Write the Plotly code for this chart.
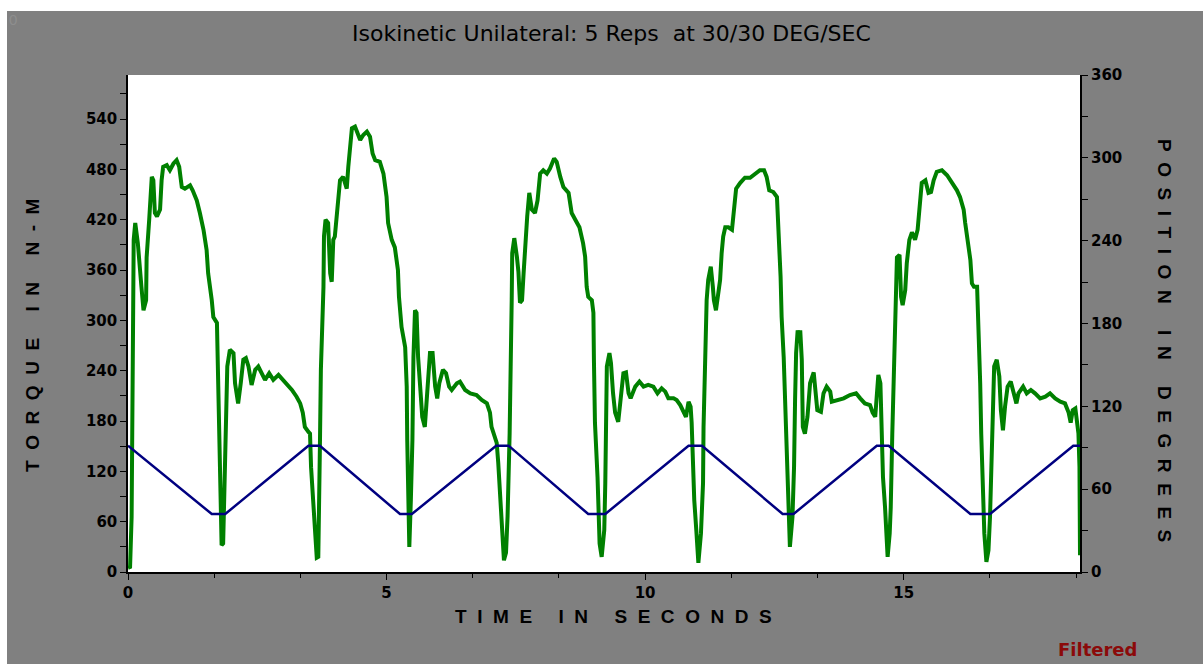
import plotly.graph_objects as go

# ---- data ----
torque_time = [
    0.00, 0.04, 0.07, 0.10, 0.11, 0.14, 0.19, 0.26, 0.30, 0.35, 0.36, 0.41, 0.46, 0.49, 0.52, 0.56,
    0.62, 0.65, 0.68, 0.75, 0.81, 0.88, 0.94, 0.99, 1.04, 1.10, 1.20, 1.25, 1.33, 1.39, 1.46, 1.52,
    1.55, 1.62, 1.65, 1.72, 1.73, 1.75, 1.78, 1.81, 1.84, 1.88, 1.91, 1.92, 1.97, 2.04, 2.07, 2.13,
    2.18, 2.23, 2.28, 2.33, 2.39, 2.46, 2.52, 2.59, 2.65, 2.73, 2.81, 2.91, 3.00, 3.07, 3.17, 3.26,
    3.33, 3.38, 3.42, 3.49, 3.52, 3.54, 3.57, 3.62, 3.65, 3.68, 3.70, 3.71, 3.73, 3.78, 3.79, 3.82,
    3.87, 3.91, 3.94, 3.97, 4.00, 4.04, 4.10, 4.16, 4.23, 4.26, 4.29, 4.33, 4.39, 4.49, 4.55, 4.62,
    4.68, 4.73, 4.78, 4.87, 4.94, 5.00, 5.03, 5.10, 5.16, 5.22, 5.24, 5.29, 5.36, 5.39, 5.40, 5.42,
    5.44, 5.47, 5.50, 5.52, 5.55, 5.58, 5.61, 5.65, 5.69, 5.74, 5.78, 5.84, 5.89, 5.94, 5.98, 6.02,
    6.09, 6.15, 6.21, 6.26, 6.36, 6.42, 6.52, 6.62, 6.74, 6.84, 6.94, 7.00, 7.03, 7.08, 7.13, 7.16,
    7.20, 7.23, 7.27, 7.31, 7.34, 7.38, 7.40, 7.42, 7.43, 7.47, 7.52, 7.55, 7.58, 7.62, 7.65, 7.68,
    7.72, 7.76, 7.81, 7.87, 7.92, 7.97, 8.03, 8.10, 8.16, 8.24, 8.29, 8.36, 8.42, 8.52, 8.58, 8.65,
    8.73, 8.80, 8.84, 8.87, 8.90, 8.97, 9.00, 9.01, 9.03, 9.08, 9.12, 9.16, 9.21, 9.23, 9.25, 9.26,
    9.31, 9.34, 9.38, 9.42, 9.48, 9.54, 9.58, 9.63, 9.68, 9.72, 9.81, 9.89, 9.97, 10.06, 10.16, 10.24,
    10.32, 10.39, 10.45, 10.55, 10.61, 10.68, 10.74, 10.79, 10.84, 10.88, 10.90, 10.92, 10.95, 10.99, 11.03, 11.08,
    11.12, 11.13, 11.16, 11.19, 11.22, 11.27, 11.31, 11.33, 11.37, 11.41, 11.45, 11.48, 11.51, 11.55, 11.61, 11.68,
    11.71, 11.76, 11.84, 11.93, 12.03, 12.13, 12.22, 12.30, 12.35, 12.40, 12.48, 12.55, 12.56, 12.59, 12.62, 12.64,
    12.68, 12.71, 12.74, 12.77, 12.80, 12.85, 12.88, 12.90, 12.92, 12.95, 12.98, 13.00, 13.03, 13.05, 13.09, 13.14,
    13.19, 13.26, 13.29, 13.33, 13.40, 13.45, 13.51, 13.58, 13.61, 13.71, 13.84, 13.96, 14.08, 14.16, 14.25, 14.35,
    14.40, 14.45, 14.48, 14.51, 14.55, 14.57, 14.60, 14.64, 14.69, 14.73, 14.75, 14.78, 14.82, 14.84, 14.87, 14.92,
    14.95, 14.98, 15.03, 15.06, 15.11, 15.16, 15.22, 15.27, 15.31, 15.35, 15.42, 15.48, 15.53, 15.58, 15.64, 15.74,
    15.84, 15.93, 16.03, 16.09, 16.16, 16.19, 16.24, 16.29, 16.32, 16.36, 16.42, 16.45, 16.48, 16.50, 16.53, 16.56,
    16.60, 16.64, 16.67, 16.69, 16.72, 16.75, 16.80, 16.85, 16.88, 16.92, 16.96, 17.01, 17.07, 17.12, 17.18, 17.22,
    17.31, 17.38, 17.46, 17.54, 17.64, 17.74, 17.83, 17.93, 18.03, 18.12, 18.19, 18.23, 18.27, 18.32, 18.35, 18.38,
    18.40, 18.41,
]
torque_nm = [
    5, 6, 66, 288, 396, 416, 392, 340, 312, 324, 375, 420, 471, 467, 428, 424,
    432, 467, 483, 485, 479, 487, 491, 483, 459, 457, 461, 455, 443, 428, 408, 384,
    356, 324, 304, 297, 265, 178, 74, 32, 34, 125, 193, 245, 265, 261, 225, 201,
    225, 253, 255, 245, 223, 241, 245, 237, 229, 237, 229, 235, 229, 223, 217, 209,
    201, 190, 173, 167, 165, 125, 90, 46, 17, 18, 77, 145, 241, 340, 400, 420,
    416, 356, 346, 396, 400, 432, 467, 471, 457, 483, 507, 529, 531, 515, 521, 525,
    519, 499, 491, 489, 475, 447, 416, 396, 387, 360, 328, 292, 268, 221, 157, 86,
    30, 86, 157, 256, 312, 309, 256, 221, 185, 173, 213, 261, 261, 221, 207, 225,
    241, 237, 221, 217, 225, 227, 217, 213, 211, 205, 201, 190, 173, 165, 154, 130,
    82, 46, 14, 23, 66, 165, 225, 324, 380, 398, 376, 358, 321, 324, 356, 392,
    424, 452, 432, 428, 443, 475, 479, 475, 481, 493, 489, 471, 459, 452, 428, 420,
    411, 392, 376, 340, 328, 324, 309, 253, 178, 113, 34, 18, 50, 106, 185, 245,
    261, 249, 213, 190, 179, 213, 237, 238, 213, 207, 221, 227, 221, 223, 221, 213,
    219, 215, 207, 207, 205, 199, 191, 185, 203, 197, 178, 125, 86, 50, 11, 46,
    106, 173, 256, 324, 348, 364, 340, 324, 312, 328, 348, 380, 400, 411, 411, 408,
    432, 457, 464, 470, 470, 475, 479, 479, 471, 455, 453, 447, 428, 392, 352, 304,
    256, 205, 149, 74, 30, 66, 125, 205, 261, 288, 277, 288, 253, 173, 165, 185,
    225, 238, 221, 193, 191, 213, 221, 215, 203, 205, 207, 211, 213, 207, 201, 199,
    190, 185, 213, 235, 225, 169, 113, 77, 18, 46, 77, 165, 249, 324, 375, 378,
    328, 318, 336, 368, 396, 405, 396, 408, 443, 464, 467, 452, 453, 467, 477, 479,
    473, 465, 455, 447, 432, 416, 392, 372, 344, 340, 340, 292, 225, 165, 86, 46,
    12, 26, 66, 125, 185, 245, 253, 233, 193, 169, 197, 221, 227, 213, 201, 213,
    221, 213, 217, 213, 207, 209, 213, 207, 203, 201, 190, 178, 193, 195, 178, 165,
    125, 20,
]

position_time = [0.00, 1.62, 1.88, 3.49, 3.71, 5.26, 5.49, 7.12, 7.36, 8.90, 9.23,
                 10.84, 11.10, 12.66, 12.87, 14.48, 14.71, 16.29, 16.67, 18.28, 18.41]
position_deg = [91.5, 42, 42, 91.5, 91.5, 42, 42, 91.5, 91.5, 42, 42,
                91.5, 91.5, 42, 42, 91.5, 91.5, 42, 42, 91.5, 91.5]

torque_ticks = [0, 60, 120, 180, 240, 300, 360, 420, 480, 540]
position_ticks = [0, 60, 120, 180, 240, 300, 360]
time_ticks = [0, 5, 10, 15]

title_text = "Isokinetic Unilateral: 5 Reps\u00a0\u00a0at 30/30 DEG/SEC"

# ---- figure ----
GRAY = "#808080"
FONT = "Liberation Sans, Arial, sans-serif"
WIDE = "DejaVu Sans, Verdana, sans-serif"

fig = go.Figure()
fig.add_trace(go.Scatter(x=torque_time, y=torque_nm, mode="lines",
                         line=dict(color="#008000", width=4), yaxis="y",
                         showlegend=False, hoverinfo="skip"))
fig.add_trace(go.Scatter(x=position_time, y=position_deg, mode="lines",
                         line=dict(color="#000080", width=2.5), yaxis="y2",
                         showlegend=False, hoverinfo="skip"))

tickfont = dict(family=WIDE, size=15, color="black", weight="bold")

fig.update_layout(
    width=1203, height=664,
    margin=dict(l=128, r=123, t=75, b=92),
    paper_bgcolor=GRAY, plot_bgcolor="white",
    showlegend=False,
    xaxis=dict(range=[0, 18.41], tickvals=time_ticks, ticktext=[str(v) for v in time_ticks],
               ticks="outside", ticklen=6, tickwidth=1, tickcolor="black",
               minor=dict(dtick=5 / 3, tick0=0, ticks="outside", ticklen=4, tickcolor="black"),
               showline=True, linecolor="black", linewidth=1.5,
               showgrid=False, zeroline=False, tickfont=tickfont, fixedrange=True),
    yaxis=dict(range=[0, 592.5], tickvals=torque_ticks, ticktext=[str(v) for v in torque_ticks],
               ticks="outside", ticklen=6, tickwidth=1, tickcolor="black",
               minor=dict(dtick=30, tick0=0, ticks="outside", ticklen=6, tickcolor="black"),
               showline=True, linecolor="black", linewidth=1.5,
               showgrid=False, zeroline=False, tickfont=tickfont),
    yaxis2=dict(range=[0, 360], tickvals=position_ticks, ticktext=[str(v) for v in position_ticks],
                overlaying="y", side="right",
                ticks="outside", ticklen=6, tickwidth=1, tickcolor="black",
                minor=dict(dtick=30, tick0=0, ticks="outside", ticklen=6, tickcolor="black"),
                showline=True, linecolor="black", linewidth=2,
                showgrid=False, zeroline=False, tickfont=tickfont),
)

ann = [
    dict(text=title_text, x=0.5084, y=1.0845, font=dict(family=WIDE, size=22, color="#000000")),
    dict(text="T\u00a0\u00a0I\u00a0\u00a0M\u00a0\u00a0E\u00a0\u00a0\u00a0\u00a0\u00a0I\u00a0\u00a0N\u00a0\u00a0\u00a0\u00a0\u00a0S\u00a0\u00a0E\u00a0\u00a0C\u00a0\u00a0O\u00a0\u00a0N\u00a0\u00a0D\u00a0\u00a0S",
         x=0.5095, y=-0.0905, font=dict(family=FONT, size=19, color="#000000", weight=600)),
    dict(text="T\u00a0\u00a0O\u00a0\u00a0R\u00a0\u00a0Q\u00a0\u00a0U\u00a0\u00a0E\u00a0\u00a0\u00a0\u00a0\u00a0I\u00a0\u00a0N\u00a0\u00a0\u00a0\u00a0\u00a0N\u00a0\u00a0-\u00a0\u00a0M",
         x=-0.0998, y=0.4769, textangle=-90, font=dict(family=FONT, size=19, color="#000000", weight=600)),
    dict(text="P\u00a0\u00a0O\u00a0\u00a0S\u00a0\u00a0I\u00a0\u00a0T\u00a0\u00a0I\u00a0\u00a0O\u00a0\u00a0N\u00a0\u00a0\u00a0\u00a0\u00a0I\u00a0\u00a0N\u00a0\u00a0\u00a0\u00a0\u00a0D\u00a0\u00a0E\u00a0\u00a0G\u00a0\u00a0R\u00a0\u00a0E\u00a0\u00a0E\u00a0\u00a0S",
         x=1.0893, y=0.4668, textangle=90, font=dict(family=FONT, size=19, color="#000000", weight=600)),
    dict(text="Filtered", x=1.0179, y=-0.1569,
         font=dict(family=WIDE, size=18, color="#8b0a0a", weight="bold")),
    dict(text="0", x=-0.1208, y=1.1107, font=dict(family=FONT, size=15, color="#8e8e8e")),
]
for a in ann:
    a.update(xref="paper", yref="paper", showarrow=False, xanchor="center", yanchor="middle")
fig.update_layout(annotations=ann)

# thin white page margins at the left and top edges
fig.add_shape(type="rect", xref="paper", yref="paper", x0=-0.1345, x1=-0.1271, y0=-0.2, y1=1.2,
              fillcolor="white", line=dict(width=0), layer="above")
fig.add_shape(type="rect", xref="paper", yref="paper", x0=-0.14, x1=1.14, y0=1.1288, y1=1.2,
              fillcolor="white", line=dict(width=0), layer="above")

fig.write_html("out.html", config={"displayModeBar": False},
               post_script="document.body.style.margin='0px';document.body.style.overflow='hidden';")
